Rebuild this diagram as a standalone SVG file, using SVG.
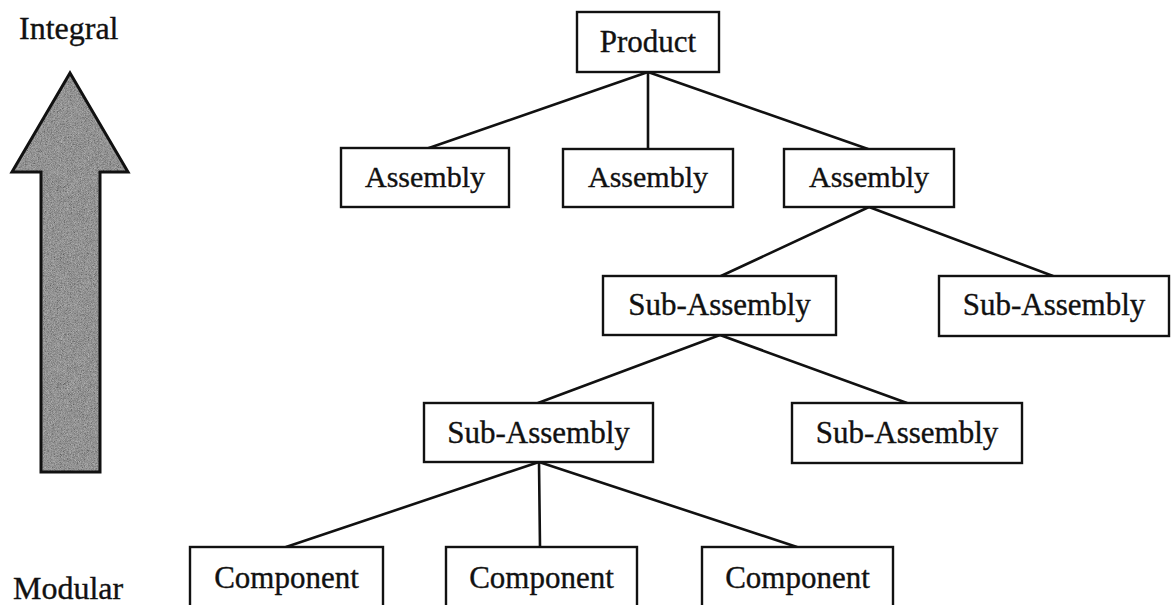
<svg xmlns="http://www.w3.org/2000/svg" width="1171" height="605" viewBox="0 0 1171 605">
  <style>
    .box { fill: #ffffff; stroke: #111111; stroke-width: 2.4; }
    .lbl { font-family: "Liberation Serif", "Times New Roman", serif; font-size: 31px; fill: #111111; stroke: #111111; stroke-width: 0.35; text-anchor: middle; }
    .asm { font-size: 30px; }
    .side { font-family: "Liberation Serif", "Times New Roman", serif; font-size: 32px; fill: #111111; stroke: #111111; stroke-width: 0.35; }
    .conn line { stroke: #111111; stroke-width: 2.6; stroke-linecap: round; }
  </style>
  <defs>
    <filter id="grain" x="0" y="0" width="100%" height="100%">
      <feTurbulence type="fractalNoise" baseFrequency="1.3" numOctaves="2" seed="7" result="n"/>
      <feColorMatrix in="n" type="matrix" values="0.6 0.6 0 0 -0.25  0.6 0.6 0 0 -0.25  0.6 0.6 0 0 -0.25  0 0 0 0 0.55" result="g"/>
      <feComposite in="g" in2="SourceGraphic" operator="in" result="gi"/>
      <feMerge><feMergeNode in="SourceGraphic"/><feMergeNode in="gi"/></feMerge>
    </filter>
  </defs>
  <rect width="1171" height="605" fill="#ffffff"/>

  <g id="scale">
    <text class="side" x="19" y="39">Integral</text>
    <polygon points="70,73 128,172 100,172 100,472 41,472 41,172 12,172" fill="#7e7e7e" filter="url(#grain)"/>
    <polygon points="70,73 128,172 100,172 100,472 41,472 41,172 12,172" fill="none" stroke="#111111" stroke-width="3" stroke-linejoin="miter"/>
    <text class="side" x="13" y="599">Modular</text>
  </g>

  <g id="connectors" class="conn">
    <line x1="648" y1="72" x2="426" y2="149"/>
    <line x1="648" y1="72" x2="648" y2="149"/>
    <line x1="648" y1="72" x2="868" y2="149"/>
    <line x1="869" y1="207" x2="721" y2="276"/>
    <line x1="869" y1="207" x2="1053" y2="276"/>
    <line x1="720" y1="335" x2="538" y2="403"/>
    <line x1="720" y1="335" x2="907" y2="403"/>
    <line x1="539" y1="462" x2="286" y2="547"/>
    <line x1="539" y1="462" x2="540" y2="547"/>
    <line x1="539" y1="462" x2="797" y2="547"/>
  </g>

  <g id="product">
    <rect class="box" x="577" y="12" width="142" height="60"/>
    <text class="lbl" x="648" y="52">Product</text>
  </g>
  <g id="assembly1">
    <rect class="box" x="341" y="148" width="168" height="59"/>
    <text class="lbl asm" x="425" y="187">Assembly</text>
  </g>
  <g id="assembly2">
    <rect class="box" x="563" y="149" width="170" height="58"/>
    <text class="lbl asm" x="648" y="187">Assembly</text>
  </g>
  <g id="assembly3">
    <rect class="box" x="784" y="149" width="170" height="58"/>
    <text class="lbl asm" x="869" y="187">Assembly</text>
  </g>
  <g id="subassembly1">
    <rect class="box" x="603" y="276" width="233" height="59"/>
    <text class="lbl" x="719.5" y="315">Sub-Assembly</text>
  </g>
  <g id="subassembly2">
    <rect class="box" x="939" y="276" width="230" height="60"/>
    <text class="lbl" x="1054" y="315">Sub-Assembly</text>
  </g>
  <g id="subassembly3">
    <rect class="box" x="424" y="403" width="229" height="59"/>
    <text class="lbl" x="538.5" y="443">Sub-Assembly</text>
  </g>
  <g id="subassembly4">
    <rect class="box" x="792" y="403" width="230" height="60"/>
    <text class="lbl" x="907" y="443">Sub-Assembly</text>
  </g>
  <g id="component1">
    <rect class="box" x="190" y="547" width="193" height="70"/>
    <text class="lbl" x="286.5" y="588">Component</text>
  </g>
  <g id="component2">
    <rect class="box" x="446" y="547" width="191" height="70"/>
    <text class="lbl" x="541.5" y="588">Component</text>
  </g>
  <g id="component3">
    <rect class="box" x="702" y="547" width="191" height="70"/>
    <text class="lbl" x="797.5" y="588">Component</text>
  </g>
</svg>
